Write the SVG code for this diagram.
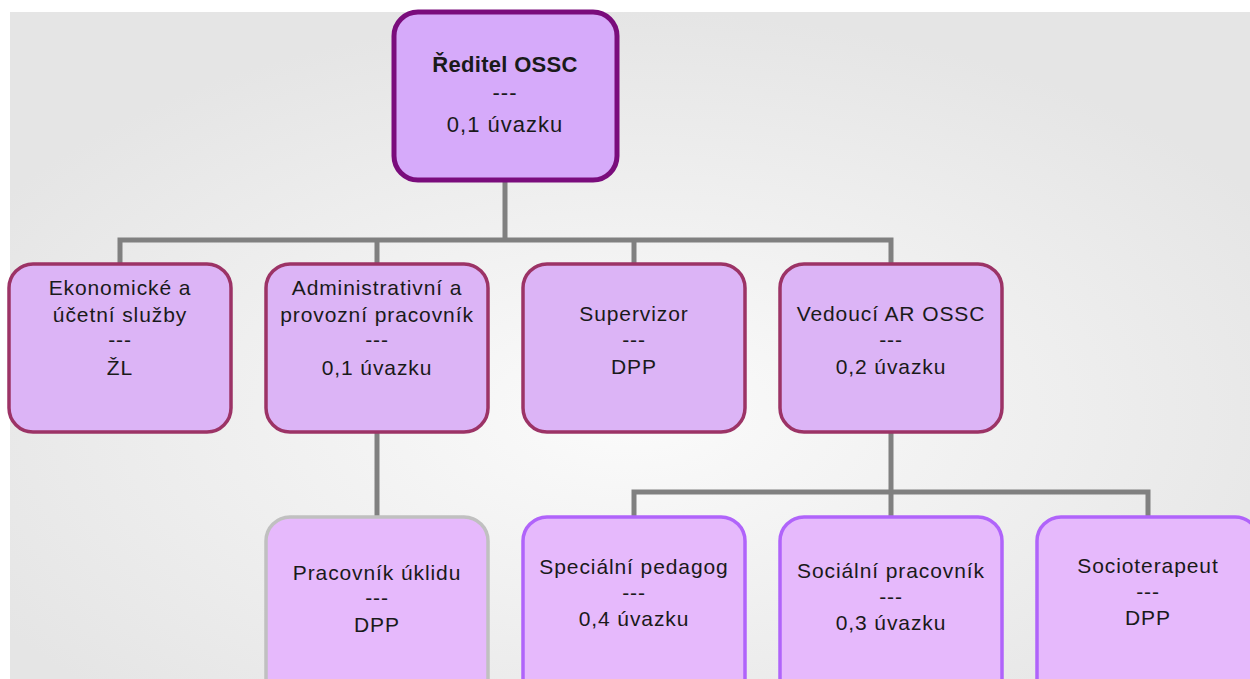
<svg xmlns="http://www.w3.org/2000/svg" width="1250" height="679" viewBox="0 0 1250 679">
<defs>
<radialGradient id="bg" cx="0.5" cy="0.6" r="0.6">
<stop offset="0" stop-color="#fbfbfb"/>
<stop offset="1" stop-color="#e5e5e5"/>
</radialGradient>
</defs>
<style>
text{font-family:"Liberation Sans",Arial,sans-serif;font-size:21px;letter-spacing:0.9px;fill:#1a1a1a;text-anchor:middle}
.b{font-weight:bold;font-size:22px;letter-spacing:0.3px}
.t{font-size:22px;letter-spacing:1px}
.top{fill:#d6aafa;stroke:#7a0c7c;stroke-width:5}
.mid{fill:#dcb4f6;stroke:#9c3366;stroke-width:3.5}
.gry{fill:#e6b9fc;stroke:#c0c0c0;stroke-width:3.5}
.sub{fill:#e6b9fc;stroke:#b064fa;stroke-width:3.5}
.c{fill:none;stroke:#808080;stroke-width:5}
</style>
<rect x="10" y="12" width="1240" height="667" fill="url(#bg)"/>
<g id="connectors">
<path class="c" d="M505 181V240M120 263V240H891V263M377 240V263M634 240V263"/>
<path class="c" d="M377 433V517"/>
<path class="c" d="M891 433V492M634 517V492H1148V517M891 492V517"/>
</g>
<g id="n-reditel">
<rect class="top" x="394" y="12" width="223" height="168" rx="24"/>
<text class="b" x="505" y="72">Ředitel OSSC</text>
<text class="t" x="505" y="100">---</text>
<text class="t" x="505" y="132">0,1 úvazku</text>
</g>
<g id="n-ekonom">
<rect class="mid" x="9" y="264" width="222" height="168" rx="24"/>
<text x="120" y="295">Ekonomické a</text>
<text x="120" y="322">účetní služby</text>
<text x="120" y="347">---</text>
<text x="120" y="375">ŽL</text>
</g>
<g id="n-admin">
<rect class="mid" x="266" y="264" width="222" height="168" rx="24"/>
<text x="377" y="295">Administrativní a</text>
<text x="377" y="322">provozní pracovník</text>
<text x="377" y="347">---</text>
<text x="377" y="375">0,1 úvazku</text>
</g>
<g id="n-supervizor">
<rect class="mid" x="523" y="264" width="222" height="168" rx="24"/>
<text x="634" y="321">Supervizor</text>
<text x="634" y="347">---</text>
<text x="634" y="374">DPP</text>
</g>
<g id="n-vedouci">
<rect class="mid" x="780" y="264" width="222" height="168" rx="24"/>
<text x="891" y="321">Vedoucí AR OSSC</text>
<text x="891" y="347">---</text>
<text x="891" y="374">0,2 úvazku</text>
</g>
<g id="n-uklid">
<rect class="gry" x="266" y="517" width="222" height="200" rx="24"/>
<text x="377" y="580">Pracovník úklidu</text>
<text x="377" y="605">---</text>
<text x="377" y="632">DPP</text>
</g>
<g id="n-pedagog">
<rect class="sub" x="523" y="517" width="222" height="200" rx="24"/>
<text x="634" y="574">Speciální pedagog</text>
<text x="634" y="600">---</text>
<text x="634" y="626">0,4 úvazku</text>
</g>
<g id="n-socialni">
<rect class="sub" x="780" y="517" width="222" height="200" rx="24"/>
<text x="891" y="578">Sociální pracovník</text>
<text x="891" y="604">---</text>
<text x="891" y="630">0,3 úvazku</text>
</g>
<g id="n-socioterapeut">
<rect class="sub" x="1037" y="517" width="222" height="200" rx="24"/>
<text x="1148" y="573">Socioterapeut</text>
<text x="1148" y="599">---</text>
<text x="1148" y="625">DPP</text>
</g>
</svg>
